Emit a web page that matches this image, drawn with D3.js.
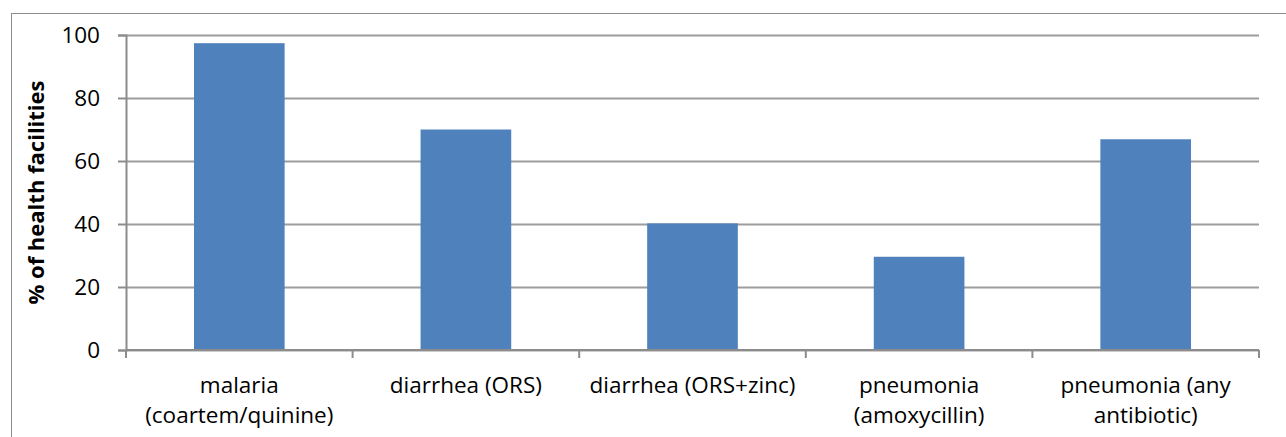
<!DOCTYPE html>
<html>
<head>
<meta charset="utf-8">
<script src="https://cdn.jsdelivr.net/npm/d3@7"></script>
<style>
  html, body { margin: 0; padding: 0; background: #fff; }
  svg { display: block; }
  text { font-family: "Open Sans", sans-serif; fill: #000; }
</style>
</head>
<body>
<svg id="chart" width="1286" height="437"></svg>
<script>
// Availability of treatment at health facilities, by condition
const categories = [
  ["malaria", "(coartem/quinine)"],
  ["diarrhea (ORS)"],
  ["diarrhea (ORS+zinc)"],
  ["pneumonia", "(amoxycillin)"],
  ["pneumonia (any", "antibiotic)"]
];
const values = [97.4, 70, 40.2, 29.6, 66.9];
const yTicks = [0, 20, 40, 60, 80, 100];
const yTitle = "% of health facilities";

const svg = d3.select("#chart");
const W = 1286, H = 437;
const margin = { left: 126, right: 27, top: 35, bottom: 87 };
const gridColor = "#8c8c8c";
const fontFamily = "'Open Sans', sans-serif";
const labelSize = 22.5;

// chart frame
svg.append("rect")
  .attr("x", 11.5).attr("y", 13.5)
  .attr("width", 1400).attr("height", 600)
  .attr("fill", "none").attr("stroke", gridColor).attr("stroke-width", 1);

const keys = categories.map((c, i) => i);
const x = d3.scaleBand()
  .domain(keys)
  .range([margin.left, W - margin.right])
  .paddingInner(0.6).paddingOuter(0.3);

const y = d3.scaleLinear().domain([0, 100]).range([H - margin.bottom, margin.top]);

// horizontal gridlines
const grid = svg.append("g")
  .attr("transform", `translate(${margin.left},0)`)
  .call(d3.axisLeft(y).tickValues(yTicks).tickSize(-(W - margin.right - margin.left)).tickFormat(""));
grid.select(".domain").remove();
grid.selectAll("line").attr("stroke", gridColor).attr("stroke-width", 2).attr("opacity", 0.85);

// bars
svg.append("g").selectAll("rect")
  .data(values)
  .join("rect")
  .attr("x", (d, i) => x(i))
  .attr("width", x.bandwidth())
  .attr("y", d => y(d))
  .attr("height", d => y(0) - y(d))
  .attr("fill", "#4f81bd");

// y axis
const yAxis = svg.append("g")
  .attr("transform", `translate(${margin.left},0)`)
  .call(d3.axisLeft(y).tickValues(yTicks).tickSize(8).tickPadding(18));
yAxis.select(".domain").attr("stroke", gridColor).attr("stroke-width", 2);
yAxis.selectAll(".tick line").attr("stroke", gridColor).attr("stroke-width", 2);
yAxis.selectAll(".tick text").attr("font-size", labelSize).attr("font-family", fontFamily).attr("fill", "#000");

// x axis with category boundary ticks
const xAxisG = svg.append("g").attr("transform", `translate(0,${y(0)})`);
xAxisG.append("line")
  .attr("x1", margin.left).attr("x2", W - margin.right)
  .attr("stroke", gridColor).attr("stroke-width", 2);
const bounds = d3.range(categories.length + 1).map(i => margin.left + i * (W - margin.right - margin.left) / categories.length);
xAxisG.selectAll(".bt").data(bounds).join("line")
  .attr("x1", d => d).attr("x2", d => d)
  .attr("y1", 0).attr("y2", 8)
  .attr("stroke", gridColor).attr("stroke-width", 2);

// category labels
const labels = svg.append("g").selectAll("text")
  .data(categories)
  .join("text")
  .attr("text-anchor", "middle")
  .attr("font-size", labelSize)
  .attr("x", (d, i) => x(i) + x.bandwidth() / 2)
  .attr("y", 393);
labels.selectAll("tspan")
  .data(d => d)
  .join("tspan")
  .attr("x", function() { return d3.select(this.parentNode).attr("x"); })
  .attr("dy", (d, j) => j === 0 ? 0 : 30)
  .text(d => d);

// y title
svg.append("text")
  .attr("transform", `translate(44,${(y(0) + y(100)) / 2}) rotate(-90)`)
  .attr("text-anchor", "middle")
  .attr("font-size", 22)
  .attr("font-weight", "bold")
  .text(yTitle);
</script>
</body>
</html>
